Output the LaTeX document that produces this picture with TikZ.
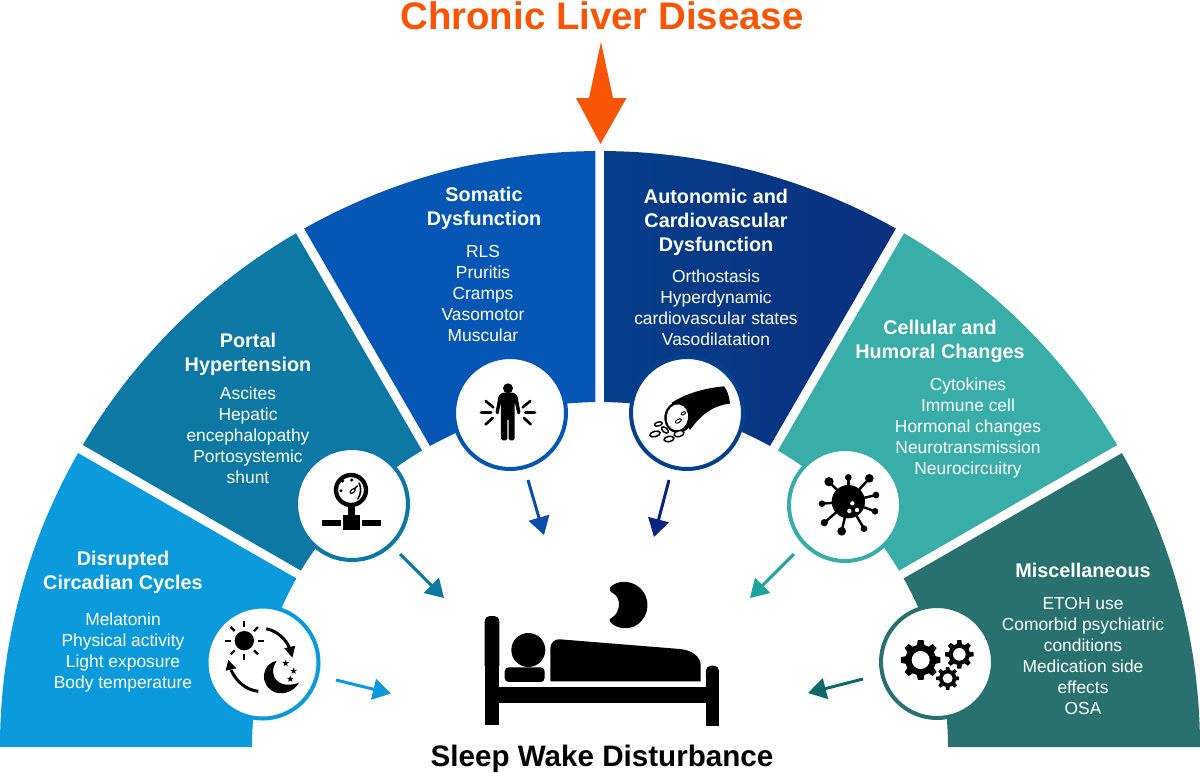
\documentclass[tikz,border=0pt]{standalone}
\usepackage{fontspec}
\setmainfont{Liberation Sans}
\usetikzlibrary{arrows.meta,shapes.geometric}
\definecolor{cDis}{HTML}{0B9ADB}
\definecolor{cPor}{HTML}{0D78A3}
\definecolor{cSom}{HTML}{0556B5}
\definecolor{cAut}{HTML}{063F8C}
\definecolor{cAutB}{HTML}{0A2F7D}
\definecolor{cCel}{HTML}{39ADA8}
\definecolor{cMis}{HTML}{28716F}
\definecolor{cOra}{HTML}{F95506}
\definecolor{aSom}{HTML}{0B4CAD}
\definecolor{aAut}{HTML}{0A2480}
\definecolor{aCel}{HTML}{1FA49D}
\definecolor{aMis}{HTML}{0E6A6A}
\newcommand{\sectorfill}[5]{%
  \path[#5] (#1:600 and 596) arc[start angle=#1,end angle=#2,x radius=600,y radius=596]
    -- (#4:348 and 345) arc[start angle=#4,end angle=#3,x radius=348,y radius=345] -- cycle;}
\newcommand{\gearicon}[5]{%
  \fill[black] (#1,#2) circle[radius=#4];
  \foreach \ga in {0,45,...,315}{
    \fill[black] ([shift={(#1,#2)}]\ga-15:#4-1) -- ([shift={(#1,#2)}]\ga-8:#3) -- ([shift={(#1,#2)}]\ga+8:#3) -- ([shift={(#1,#2)}]\ga+15:#4-1) -- cycle;}
  \fill[white] (#1,#2) circle[radius=#5];}
\tikzset{
  x=1pt,y=-1pt,
  iconcircle/.style={circle,fill=white,draw=#1,line width=4pt,minimum size=112pt,inner sep=0pt},
  headtext/.style={text=white,align=center,font=\fontsize{19.8}{24}\selectfont\bfseries,inner sep=0pt},
  listtext/.style={text=white,align=center,font=\fontsize{17.4}{21}\selectfont,inner sep=0pt},
  flow/.style={draw=#1,line width=3pt,-{Triangle[width=21pt,length=18pt,fill=#1]}},
  zoomed/.style={shift={#1},x=0.3333pt,y=-0.3333pt},
  staricon/.style={star,star points=5,star point ratio=2.4,fill=black,inner sep=0pt,minimum size=7pt},
  pill/.style={fill=white,draw=black,line width=1.5pt},
}
\begin{document}
\begin{tikzpicture}
\useasboundingbox (0,0) rectangle (1200,772);
% sectors
\begin{scope}[shift={(600,747)}]
\sectorfill{180}{209.55}{180}{209.25}{fill=cDis}
\sectorfill{210.45}{239.55}{210.75}{239.25}{fill=cPor}
\sectorfill{240.45}{269.55}{240.75}{269.25}{fill=cSom}
\sectorfill{270.45}{299.55}{270.75}{299.25}{left color=cAut,right color=cAutB}
\sectorfill{300.45}{329.55}{300.75}{329.25}{fill=cCel}
\sectorfill{330.45}{360}{330.75}{360}{fill=cMis}
\end{scope}
% title and arrow
\node[anchor=base,text=cOra,font=\fontsize{38.4}{44}\selectfont\bfseries,inner sep=0pt] (title) at (602,29.5) {Chronic Liver Disease};
\fill[cOra] (601,42) -- (613,98) -- (626.5,98) -- (600.5,144) -- (576,98) -- (589,98) -- cycle;
% circles
\node[iconcircle=cDis] (cDisN) at (262.5,662.5) {};
\node[iconcircle=cPor] (cPorN) at (352,504) {};
\node[iconcircle=cSom] (cSomN) at (510,413) {};
\node[iconcircle=cAut] (cAutN) at (687,413) {};
\node[iconcircle=cCel] (cCelN) at (845,505) {};
\node[iconcircle=cMis] (cMisN) at (937,662) {};
% texts
\node[headtext] (h1) at (123,572.5) {Disrupted\\Circadian Cycles};
\node[listtext] (l1) at (123,652.5) {Melatonin\\Physical activity\\Light exposure\\Body temperature};
\node[headtext] (h2) at (248,354) {Portal\\Hypertension};
\node[listtext] (l2) at (248,435) {Ascites\\Hepatic\\encephalopathy\\Portosystemic\\shunt};
\node[headtext] (h3) at (484,208.5) {Somatic\\Dysfunction};
\node[listtext] (l3) at (483,294) {RLS\\Pruritis\\Cramps\\Vasomotor\\Muscular};
\node[headtext] (h4) at (716,222.5) {Autonomic and\\Cardiovascular\\Dysfunction};
\node[listtext] (l4) at (716,307.5) {Orthostasis\\Hyperdynamic\\cardiovascular states\\Vasodilatation};
\node[headtext] (h5) at (940,341.5) {Cellular and\\Humoral Changes};
\node[listtext] (l5) at (968,427.5) {Cytokines\\Immune cell\\Hormonal changes\\Neurotransmission\\Neurocircuitry};
\node[headtext] (h6) at (1083,570) {Miscellaneous};
\node[listtext] (l6) at (1083,656) {ETOH use\\Comorbid psychiatric\\conditions\\Medication side\\effects\\OSA};
\node[anchor=base,font=\fontsize{29.6}{34}\selectfont\bfseries,inner sep=0pt] (bottom) at (602,766) {Sleep Wake Disturbance};
% arrows
\coordinate (a1s) at (336,680); \coordinate (a1e) at (391,693.5);
\coordinate (a2s) at (400,554); \coordinate (a2e) at (444,598);
\coordinate (a3s) at (528,480); \coordinate (a3e) at (544,535);
\coordinate (a4s) at (669,480); \coordinate (a4e) at (654,537);
\coordinate (a5s) at (794,554); \coordinate (a5e) at (750,598);
\coordinate (a6s) at (863,679); \coordinate (a6e) at (808,693);
\draw[flow=cDis] (a1s) -- (a1e);
\draw[flow=cPor] (a2s) -- (a2e);
\draw[flow=aSom] (a3s) -- (a3e);
\draw[flow=aAut] (a4s) -- (a4e);
\draw[flow=aCel] (a5s) -- (a5e);
\draw[flow=aMis] (a6s) -- (a6e);
% sun/moon icon
\begin{scope}[zoomed={(205,605)}]
\fill (118,107) circle[radius=29];
\foreach \ang in {0,45,...,315}{\draw[line width=2.3pt] ([shift={(118,107)}]\ang:41) -- ([shift={(118,107)}]\ang:58);}
\draw[line width=3pt] (184,71) .. controls (215,78) and (242,100) .. (254,130);
\fill (262,158) -- (238,130) -- (271,122) -- cycle;
\draw[line width=3pt] (160,259) .. controls (125,255) and (95,232) .. (78,195);
\fill (70,165) -- (62,197) -- (94,190) -- cycle;
\fill (215,168) .. controls (170,175) and (160,240) .. (210,262) .. controls (240,272) and (270,255) .. (282,233) .. controls (250,245) and (220,240) .. (207,215) .. controls (200,195) and (207,180) .. (215,168) -- cycle;
\node[staricon] (st1) at (242,175) {};
\node[staricon] (st2) at (266,198) {};
\node[staricon] (st3) at (256,222) {};
\end{scope}
% gauge icon
\begin{scope}[zoomed={(295,450)}]
\draw[line width=4.3pt] (168,120) circle[radius=45];
\fill (158,165) rectangle (180,197);
\fill (143,195) rectangle (196,241);
\fill (82,210) rectangle (138,229);
\fill (200,210) rectangle (257,229);
\draw[line width=1.6pt] (192,98) .. controls (200,115) and (198,132) .. (188,148);
\fill (143,93) circle[radius=5];
\fill (170,90) circle[radius=5];
\fill (138,122) circle[radius=5];
\draw[line width=1.5pt] (166,128) -- (188,107);
\draw[line width=1.2pt,fill=white] (173,123) ellipse[x radius=9,y radius=5,rotate=40];
\end{scope}
% person icon
\begin{scope}[zoomed={(452,355)}]
\fill (168,100) circle[radius=15];
\fill[rounded corners=1.6pt] (150,113) -- (186,113) -- (196,122) -- (206,175) -- (197,180) -- (188,140) -- (188,256) -- (170,256) -- (170,190) -- (166,190) -- (166,256) -- (147,256) -- (147,140) -- (139,180) -- (130,175) -- (140,122) -- cycle;
\draw[line width=2.7pt,line cap=round] (87,173) -- (117,173);
\draw[line width=2.7pt,line cap=round] (220,173) -- (249,173);
\draw[line width=2.7pt,line cap=round] (101,138) -- (124,157);
\draw[line width=2.7pt,line cap=round] (235,138) -- (212,157);
\draw[line width=2.7pt,line cap=round] (101,208) -- (122,189);
\draw[line width=2.7pt,line cap=round] (236,208) -- (216,189);
\end{scope}
% intestine icon
\begin{scope}[zoomed={(630,355)}]
\fill (125,143) .. controls (170,115) and (220,100) .. (282,94) .. controls (292,105) and (298,125) .. (300,146) .. controls (255,150) and (215,175) .. (180,225) -- cycle;
\fill[rotate around={-8:(145,187)}] (145,187) ellipse[x radius=42,y radius=47];
\fill[white,rotate around={-8:(142,187)}] (142,187) ellipse[x radius=32,y radius=39];
\draw[pill,line width=1pt] (160,175) ellipse[x radius=7,y radius=4,rotate=30];
\draw[pill,line width=1pt] (145,198) ellipse[x radius=10,y radius=5,rotate=30];
\draw[pill] (85,207) ellipse[x radius=12,y radius=6,rotate=15];
\draw[pill] (105,225) ellipse[x radius=12,y radius=7,rotate=-40];
\draw[pill] (75,237) ellipse[x radius=16,y radius=8,rotate=15];
\draw[pill] (117,252) ellipse[x radius=15,y radius=8,rotate=10];
\draw[pill] (147,236) ellipse[x radius=15,y radius=9,rotate=15];
\end{scope}
% virus icon
\begin{scope}[zoomed={(790,450)}]
\fill (175,155) circle[radius=50];
\foreach \vx/\vy/\vr in {117/95/14,175/82/10,238/85/13,258/135/10,255/184/10,222/236/10,155/244/13,103/218/11,96/161/10}{
  \draw[line width=2.4pt] (175,155) -- (\vx,\vy);
  \fill (\vx,\vy) circle[radius=\vr];}
\fill[white] (187,160) circle[radius=6.5];
\fill[white] (178,183) circle[radius=6.5];
\fill[white] (201,180) circle[radius=6.5];
\end{scope}
% gears icon
\begin{scope}[zoomed={(880,605)}]
\gearicon{122}{165}{60}{46}{27}
\gearicon{238}{148}{43}{32}{19}
\gearicon{203}{220}{35}{26}{15}
\end{scope}
% bed icon
\begin{scope}[zoomed={(470,570)}]
\fill[rounded corners=5pt] (44,300) -- (44,138) -- (88,138) -- (88,300) -- cycle;
\fill (44,200) rectangle (88,465);
\fill[rounded corners=5pt] (708,340) -- (708,287) -- (747,287) -- (747,340) -- cycle;
\fill (708,320) rectangle (747,467);
\fill (88,350) rectangle (708,400);
\fill (175,240) circle[radius=51];
\fill[rounded corners=4pt] (104,292) rectangle (224,336);
\fill (241,334) -- (241,235) .. controls (241,218) and (255,206) .. (270,208) -- (630,237) .. controls (665,240) and (692,260) .. (692,285) -- (692,334) -- cycle;
\fill (420,53) .. controls (440,30) and (480,30) .. (505,50) .. controls (545,80) and (540,140) .. (500,165) .. controls (475,182) and (435,175) .. (420,155) .. controls (415,145) and (425,145) .. (430,140) .. controls (450,125) and (455,85) .. (430,70) .. controls (420,65) and (415,60) .. (420,53) -- cycle;
\end{scope}
\end{tikzpicture}
\end{document}
